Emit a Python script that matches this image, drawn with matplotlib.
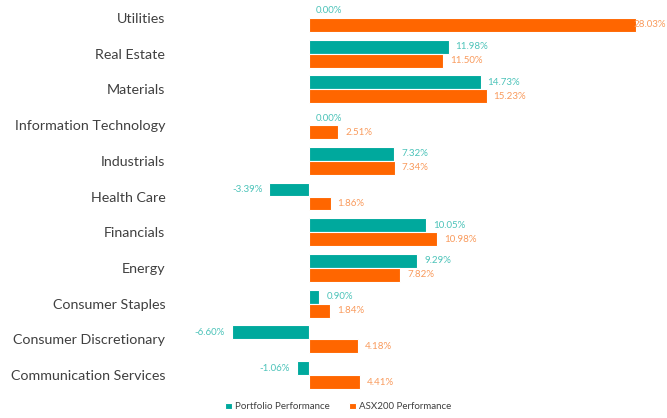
import numpy as np
import matplotlib.pyplot as plt

plt.rcParams['font.family'] = ['Lato', 'DejaVu Sans']

sectors = ['Utilities', 'Real Estate', 'Materials', 'Information Technology',
           'Industrials', 'Health Care', 'Financials', 'Energy',
           'Consumer Staples', 'Consumer Discretionary', 'Communication Services']
portfolio = [0.00, 11.98, 14.73, 0.00, 7.32, -3.39, 10.05, 9.29, 0.90, -6.60, -1.06]
asx200 = [28.03, 11.50, 15.23, 2.51, 7.34, 1.86, 10.98, 7.82, 1.84, 4.18, 4.41]

teal = '#00A99D'
orange = '#FF6600'
teal_txt = '#4CC3B9'
orange_txt = '#F99A5C'

fig = plt.figure(figsize=(6.67, 4.18), dpi=100)
ax = fig.add_axes([175 / 667, 25 / 418, 492 / 667, 393 / 418])

y = np.arange(len(sectors))
h = 0.39
b1 = ax.barh(y - h / 2, portfolio, height=h, color=teal, edgecolor='white',
             linewidth=0.8, label='Portfolio Performance')
b2 = ax.barh(y + h / 2, asx200, height=h, color=orange, edgecolor='white',
             linewidth=0.8, label='ASX200 Performance')

xmax = 30.7
for bars, vals, c in [(b1, portfolio, teal_txt), (b2, asx200, orange_txt)]:
    for bar, v in zip(bars, vals):
        yc = bar.get_y() + bar.get_height() / 2
        if v < 0:
            off = -5
        elif v > 0.85 * xmax:
            off = -1.5  # label sits over the bar end, as in the original
        else:
            off = 5
        ax.annotate('%.2f%%' % v, (v, yc), xytext=(off, 0), textcoords='offset points',
                    ha='right' if v < 0 else 'left', va='center', fontsize=7,
                    color=c, annotation_clip=False)

ax.set_xlim(-11.48, xmax)
ax.set_ylim(len(sectors) - 0.5, -0.5)
ax.set_yticks(y)
ax.set_yticklabels(sectors, fontsize=10.3, color='#404040')
ax.tick_params(axis='y', length=0, pad=7)
ax.set_xticks([])
for s in ax.spines.values():
    s.set_visible(False)

fig.legend(loc='lower center', bbox_to_anchor=(338 / 667, -0.005), ncol=2,
           frameon=False, fontsize=7, handlelength=0.7, handleheight=0.7,
           handletextpad=0.3, columnspacing=2, labelcolor='#404040')

fig.savefig('out.png', dpi=100)
